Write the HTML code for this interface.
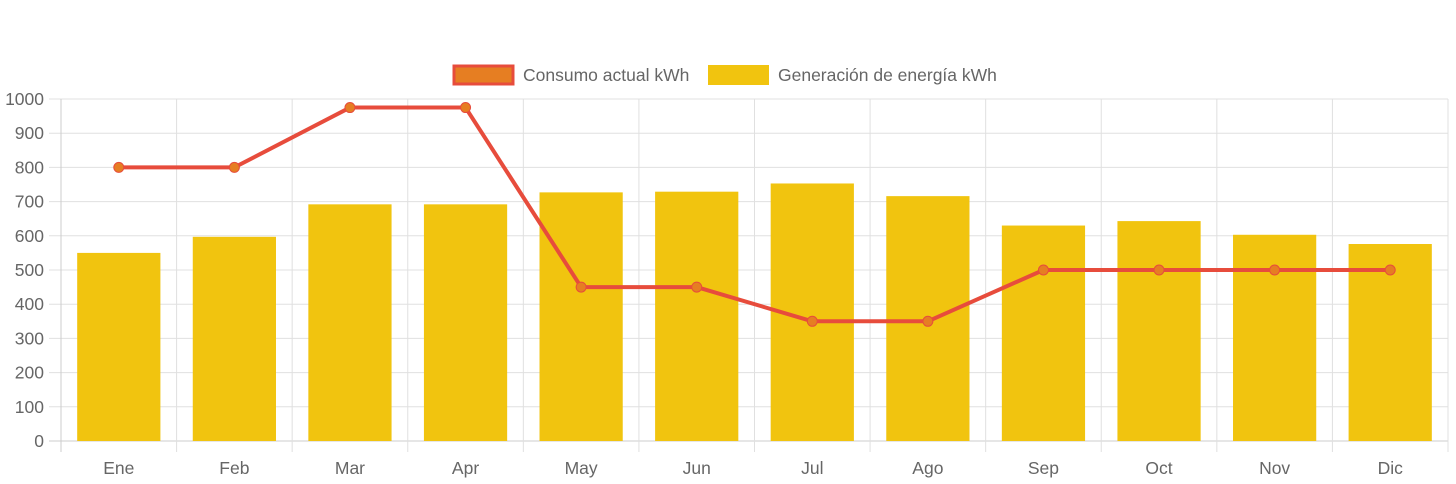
<!DOCTYPE html>
<html><head><meta charset="utf-8"><style>
html,body{margin:0;padding:0;background:#fff;width:1456px;height:484px;overflow:hidden}
svg text{font-family:"Liberation Sans",Arial,sans-serif;fill:#666}
</style></head><body>
<svg id="chart" width="1456" height="484" xmlns="http://www.w3.org/2000/svg">
<g id="grid"></g>
<g id="bars"></g>
<g id="line"></g>
<g id="axes"></g>
<g>
<g>
<rect x="454" y="66" width="59" height="18" fill="#e67e22" stroke="#e74c3c" stroke-width="3"/>
<text x="523" y="81" font-size="17.5">Consumo actual kWh</text></g>
<g>
<rect x="708" y="65" width="61" height="20" fill="#f1c40f"/>
<text x="778" y="81" font-size="17.5">Generación de energía kWh</text></g>
</g>
</svg>
<script>
const categories=["Ene","Feb","Mar","Apr","May","Jun","Jul","Ago","Sep","Oct","Nov","Dic"];
const generation=[550,597,692,692,727,729,753,716,630,643,603,576];
const consumption=[800,800,975,975,450,450,350,350,500,500,500,500];
const yTicks=[0,100,200,300,400,500,600,700,800,900,1000];
const NS="http://www.w3.org/2000/svg";
const L=61,R=1448,T=99,B=441,yMax=1000;
const cw=(R-L)/categories.length;
const x=i=>L+cw*(i+0.5);
const y=v=>B-(v/yMax)*(B-T);
function mk(tag,attrs,parent,text){const e=document.createElementNS(NS,tag);for(const k in attrs)e.setAttribute(k,attrs[k]);if(text!==undefined)e.textContent=text;parent.appendChild(e);return e;}
const grid=document.getElementById('grid'),axes=document.getElementById('axes'),bars=document.getElementById('bars'),line=document.getElementById('line');
yTicks.forEach(t=>{
  const g=mk('line',{x1:49,x2:R,y1:y(t),y2:y(t),stroke:t===0?'#ccc':'#e0e0e0','stroke-width':1},grid);
  
  
  const tx=mk('text',{x:44,y:y(t)+6,'text-anchor':'end','font-size':17.5},axes,String(t));
  
  
});
for(let i=0;i<=categories.length;i++){
  const g=mk('line',{x1:L+cw*i,x2:L+cw*i,y1:T,y2:452,stroke:i===0?'#ccc':'#e0e0e0','stroke-width':1},grid);
  
  
}
categories.forEach((c,i)=>{
  const bw=cw*0.72;
  const r=mk('rect',{x:x(i)-bw/2,y:y(generation[i]),width:bw,height:B-y(generation[i]),fill:'#f1c40f'},bars);
  
  
  const tx=mk('text',{x:x(i),y:474,'text-anchor':'middle','font-size':17.5},axes,c);
  
  
});
const pts=consumption.map((v,i)=>x(i)+','+y(v)).join(' ');
const pl=mk('polyline',{points:pts,fill:'none',stroke:'#e74c3c','stroke-width':4,'stroke-linejoin':'round'},line);


consumption.forEach((v,i)=>{
  const c=mk('circle',{cx:x(i),cy:y(v),r:5,fill:'#e67e22',stroke:'#e74c3c','stroke-width':1},line);
  
  
});
</script>
</body></html>
